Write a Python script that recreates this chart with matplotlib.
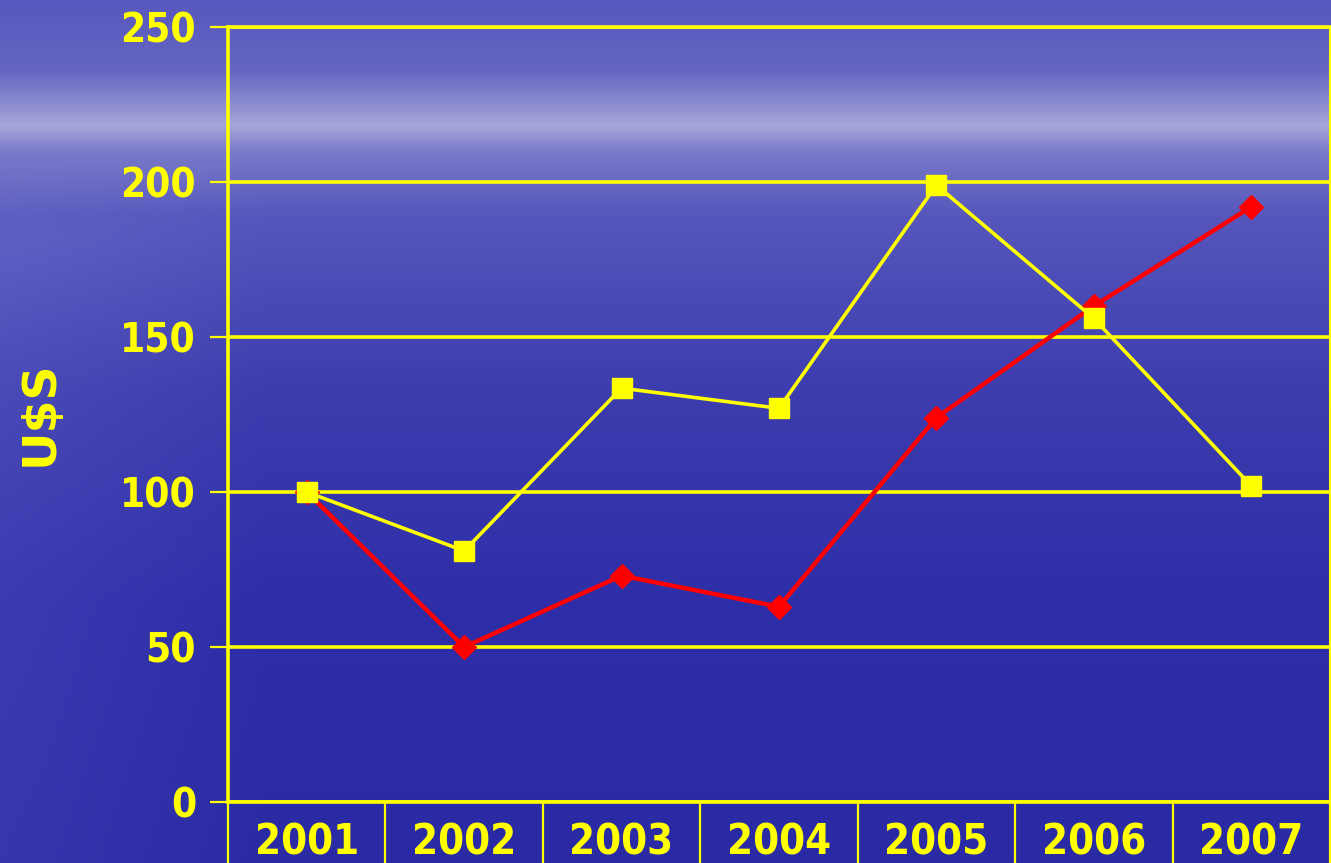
import numpy as np
import matplotlib
matplotlib.use("Agg")
import matplotlib.pyplot as plt
from matplotlib.colors import LinearSegmentedColormap
from matplotlib import font_manager as fm

years = ["2001", "2002", "2003", "2004", "2005", "2006", "2007"]
yellow_series = [100, 81, 133.5, 127, 199, 156, 102]
red_series = [100, 50, 73, 63, 124, 160, 192]
y_ticks = [0, 50, 100, 150, 200, 250]
y_label = "U$S"

YEL = "#FFFF00"
RED = "#FF0000"

# find a condensed bold font if available
cond = None
for f in fm.fontManager.ttflist:
    if f.name == "DejaVu Sans" and "condensed" in str(f.stretch).lower() and f.weight in (700, "bold"):
        cond = f.fname
        break
if cond:
    tick_fp = dict(fontproperties=fm.FontProperties(fname=cond, size=30))
    ytick_fp = dict(fontproperties=fm.FontProperties(fname=cond, size=29))
else:
    tick_fp = dict(fontsize=28, fontweight="bold", family=["DejaVu Sans"])
    ytick_fp = dict(fontsize=27, fontweight="bold", family=["DejaVu Sans"])

fig = plt.figure(figsize=(13.31, 8.63), dpi=100)

# background (sea / sky gradient)
bg = fig.add_axes([0, 0, 1, 1], zorder=-10)
bg.axis("off")
h = 863
yy = np.linspace(0, 1, h)[:, None]
stops = [(0.0, "#5858be"), (0.08, "#6565c3"), (0.145, "#a6a6da"), (0.175, "#7a7aca"),
         (0.25, "#5656bc"), (0.45, "#3d3daf"), (0.7, "#2e2ea8"), (1.0, "#2a2aa4")]
cmap = LinearSegmentedColormap.from_list("bg", stops)
xx = np.linspace(0, 1, 400)[None, :]
img_vals = np.clip(yy + 0 * xx, 0, 1)
rgb = cmap(img_vals)[..., :3]
side = np.clip(1 - xx / 0.2, 0, 1) * np.clip((yy - 0.18) / 0.1, 0, 1)
rgb = np.clip(rgb + (0.07 * side)[..., None] * np.array([0.7, 0.7, 0.5]), 0, 1)
bg.imshow(rgb, aspect="auto", extent=[0, 1, 0, 1], origin="upper")
bg.set_xlim(0, 1)
bg.set_ylim(0, 1)

ax = fig.add_axes([228 / 1331, 1 - 802 / 863, 1 - 228 / 1331 - 0.0008, (802 - 27) / 863])
ax.patch.set_alpha(0)

x = np.arange(len(years))
ax.plot(x, red_series, color=RED, lw=3.2, marker="D", markersize=12.5, zorder=3)
ax.plot(x, yellow_series, color=YEL, lw=2.6, marker="s", markersize=15, zorder=4)

ax.set_xlim(-0.5, len(years) - 0.5)
ax.set_ylim(0, 250)
ax.set_yticks(y_ticks)
ax.set_yticklabels([str(v) for v in y_ticks], color=YEL, **ytick_fp)
ax.yaxis.grid(True, color=YEL, lw=2.6)
ax.set_axisbelow(True)

ax.set_xticks(np.arange(len(years) + 1) - 0.5)
ax.set_xticklabels([])
ax.set_xticks(x, minor=True)
ax.set_xticklabels(years, minor=True, color=YEL, **tick_fp)
ax.tick_params(axis="x", which="major", length=70, width=1.6, color=YEL, direction="out")
ax.tick_params(axis="x", which="minor", length=0, pad=14)
ax.tick_params(axis="y", which="major", length=13, width=1.6, color=YEL, pad=10)

for s in ["left", "bottom", "top", "right"]:
    ax.spines[s].set_color(YEL)
    ax.spines[s].set_linewidth(2.6)
ax.spines["right"].set_linewidth(1.5)

fig.text(40 / 1331, 1 - 413 / 863, y_label, rotation=90, color=YEL, fontsize=34,
         fontweight="bold", family=["DejaVu Sans"], ha="center", va="center")

fig.savefig("out.png", dpi=100)
